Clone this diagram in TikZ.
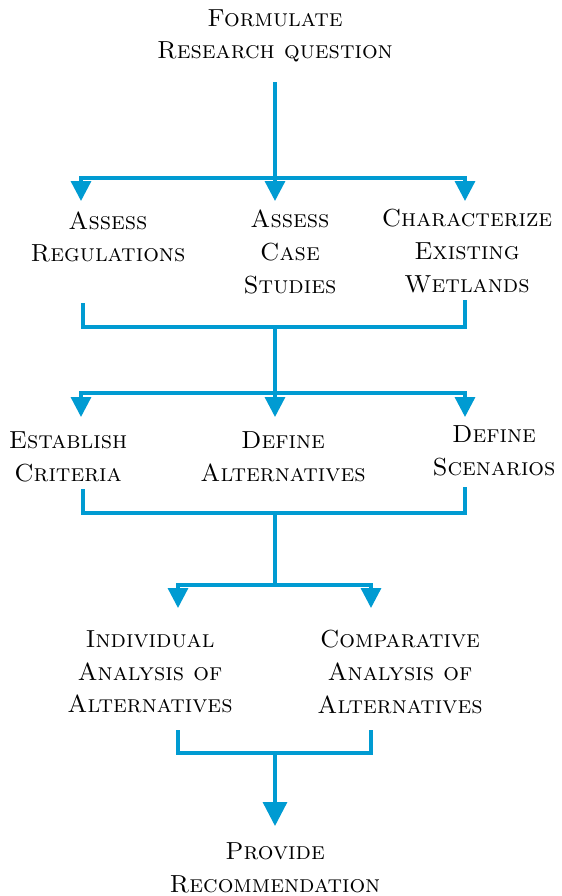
\documentclass[tikz,border=0pt]{standalone}
\usepackage{tikz}
\usetikzlibrary{positioning}
\usetikzlibrary{arrows.meta}
\definecolor{flowblue}{RGB}{0,155,210}

\tikzset{
  stagetext/.style={align=center, inner sep=0pt, font=\fontsize{18.5}{24.5}\selectfont\scshape},
  link/.style={draw=flowblue, line width=2.5pt},
  feed/.style={link, -{Triangle[width=15pt,length=15pt]}},
  bigfeed/.style={link, -{Triangle[width=18pt,length=18pt]}},
}

\begin{document}
\begin{tikzpicture}[x=0.75pt, y=-0.75pt]
        \useasboundingbox (0,0) rectangle (561,896);

        \node(formulate) [stagetext] at (275,36) {Formulate\\Research question};
        \node(assessreg) [stagetext] at (108,237) {Assess\\Regulations};
        \node(assesscase) [stagetext] at (290,252) {Assess\\Case\\Studies};
        \node(character) [stagetext] at (467,251) {Characterize\\Existing\\Wetlands};
        \node(establish) [stagetext] at (68,457) {Establish\\Criteria};
        \node(definealt) [stagetext] at (283,457) {Define\\Alternatives};
        \node(definescen) [stagetext] at (494,451) {Define\\Scenarios};
        \node(individual) [stagetext] at (150,672) {Individual\\Analysis of\\Alternatives};
        \node(comparative) [stagetext] at (400,672) {Comparative\\Analysis of\\Alternatives};
        \node(provide) [stagetext] at (275,868) {Provide\\Recommendation};

        % junctions and arrow tips
        \coordinate(qout) at (275,82);
        \coordinate(j1) at (275,178);
        \coordinate(t1a) at (81,201);
        \coordinate(t1b) at (275,201);
        \coordinate(t1c) at (465,201);

        \coordinate(m1) at (83,303);
        \coordinate(m3) at (465,300);
        \coordinate(j2) at (275,327);
        \coordinate(j3) at (275,393);
        \coordinate(t2a) at (81,417);
        \coordinate(t2b) at (275,417);
        \coordinate(t2c) at (465,417);

        \coordinate(n1) at (83,489);
        \coordinate(n3) at (465,487);
        \coordinate(j4) at (275,513);
        \coordinate(j5) at (275,585);
        \coordinate(t3a) at (178,608);
        \coordinate(t3b) at (371,608);

        \coordinate(p1) at (178,730);
        \coordinate(p3) at (371,730);
        \coordinate(j6) at (275,753);
        \coordinate(t4) at (275,826);

        \draw[feed] (qout) -- (t1b);
        \draw[feed] (j1) -| (t1a);
        \draw[feed] (j1) -| (t1c);

        \draw[link] (m1) |- (j2) -| (m3);
        \draw[link] (j2) -- (j3);
        \draw[feed] (j3) -- (t2b);
        \draw[feed] (j3) -| (t2a);
        \draw[feed] (j3) -| (t2c);

        \draw[link] (n1) |- (j4) -| (n3);
        \draw[link] (j4) -- (j5);
        \draw[feed] (j5) -| (t3a);
        \draw[feed] (j5) -| (t3b);

        \draw[link] (p1) |- (j6) -| (p3);
        \draw[bigfeed] (j6) -- (t4);
    \end{tikzpicture}
\end{document}
